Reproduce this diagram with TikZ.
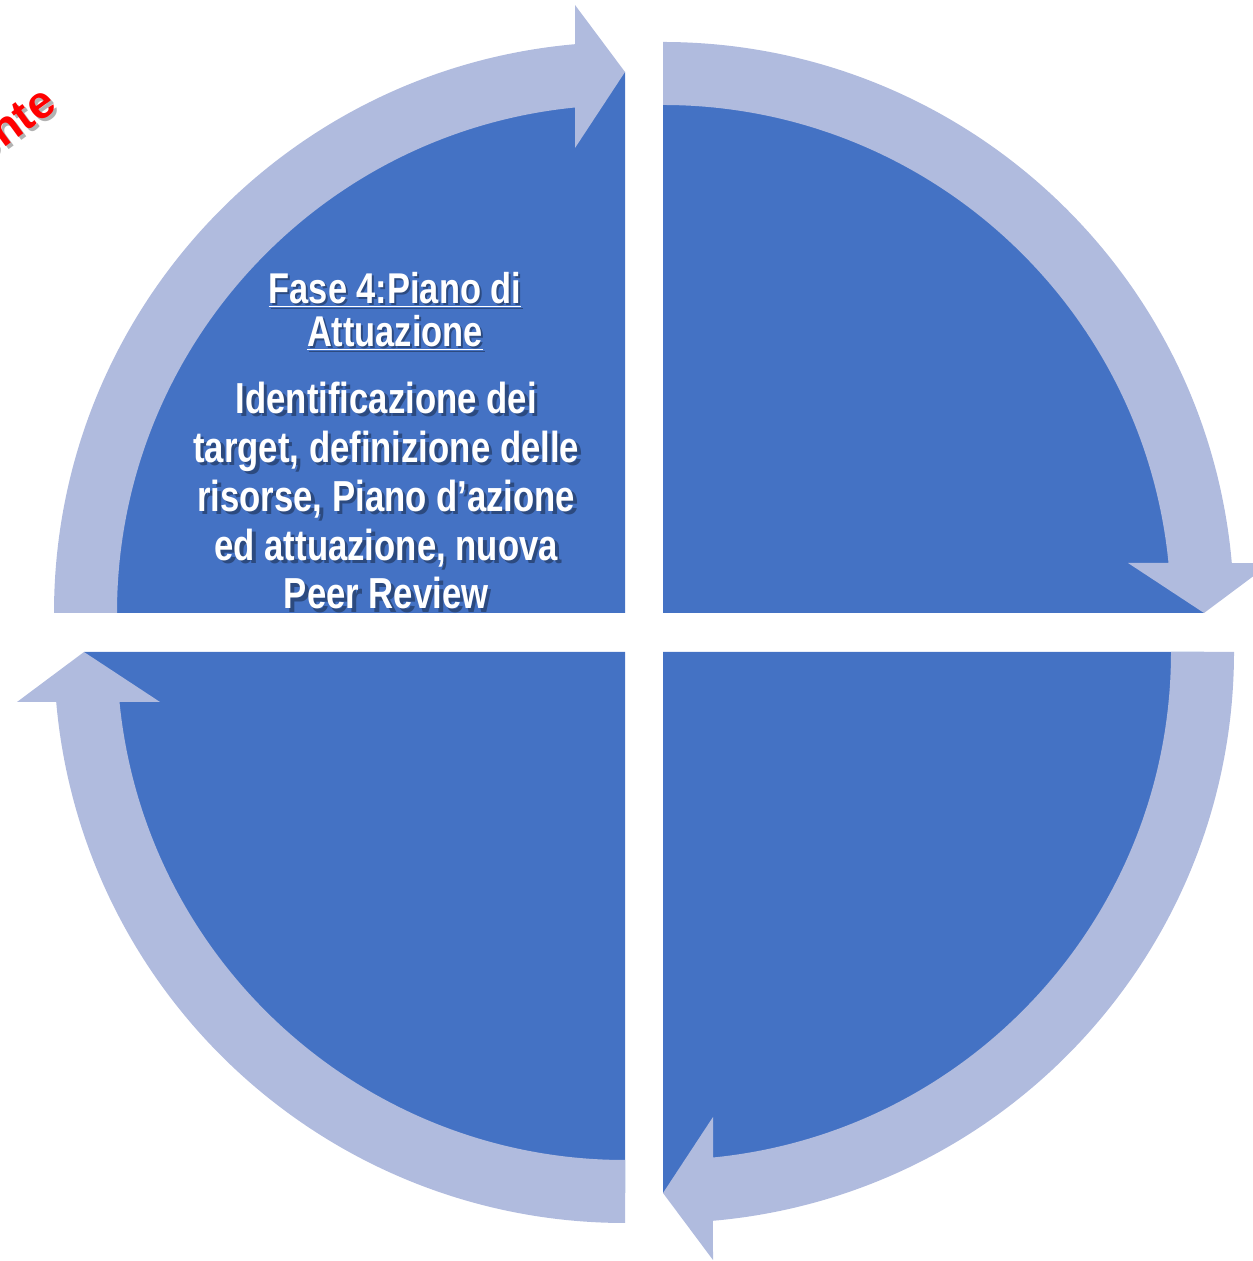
\documentclass[tikz,border=0pt]{standalone}
\usepackage{fontspec}
\setmainfont{Liberation Sans}
\newfontfamily\narrowfont{Liberation Sans}[FakeStretch=0.80]
\usetikzlibrary{positioning}
\definecolor{QuadClr}{RGB}{68,114,196}
\definecolor{ArrowClr}{RGB}{176,187,222}
\definecolor{NoteClr}{RGB}{255,0,0}
\newcommand\HeadText{\underline{Fase 4:Piano di}\\\underline{Attuazione}}
\newcommand\BodyText{Identificazione dei\\target, definizione delle\\risorse, Piano d’azione\\ed attuazione, nuova\\Peer Review}

\begin{document}
\begin{tikzpicture}[x=0.02cm,y=0.02cm,
  headtxt/.style={align=center,inner sep=0pt,text=white,
    font=\narrowfont\bfseries\fontsize{24.5}{24.4}\selectfont},
  bodytxt/.style={align=center,inner sep=0pt,text=white,
    font=\narrowfont\bfseries\fontsize{24.7}{27.8}\selectfont},
  notetxt/.style={rotate=36,anchor=base east,inner sep=0pt,
    font=\bfseries\fontsize{26}{29}\selectfont},
  shd/.style={text=black,text opacity=.35}]
\useasboundingbox (0,0) rectangle (1253,1261);
\clip (0,0) rectangle (1253,1261);

\foreach \cx/\cy/\rot in {625/648/0,663/648/-90,663/609/-180,625/609/-270}{
  \begin{scope}[shift={(\cx,\cy)},rotate=\rot]
    \fill[QuadClr] (0,0) -- (180:541) arc[start angle=180,end angle=90,radius=541] -- cycle;
    \fill[ArrowClr] (180:571) arc[start angle=180,end angle=95.02,radius=571]
      -- (-50,608) -- (0,541) -- (-50,465)
      -- (95.65:508) arc[start angle=95.65,end angle=180,radius=508] -- cycle;
  \end{scope}}

\node[headtxt,shd,anchor=north] (headshd) at (397,987) {\HeadText};
\node[headtxt,anchor=north] (head) at (395,989) {\HeadText};
\node[bodytxt,shd,below=31 of head.south,xshift=-3,yshift=-2] (bodyshd) {\BodyText};
\node[bodytxt,below=31 of head.south,xshift=-5] (body) {\BodyText};

\node[notetxt,text=black,text opacity=.3] (noteshd) at (62,1150) {ente};
\node[notetxt,text=NoteClr] (note) at (59,1153) {ente};
\end{tikzpicture}
\end{document}
